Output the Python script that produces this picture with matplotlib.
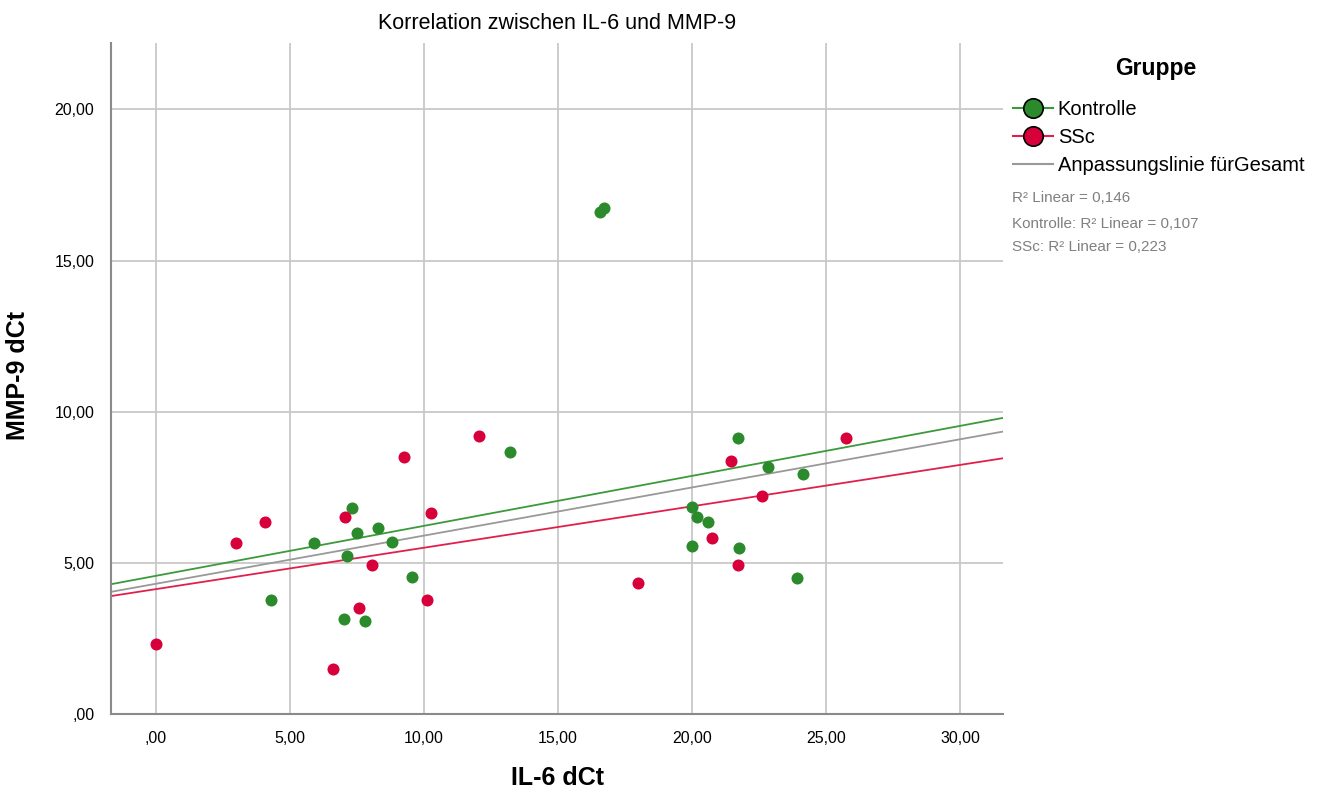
import numpy as np
import matplotlib.pyplot as plt
from matplotlib.lines import Line2D

plt.rcParams['font.family'] = ['Liberation Sans', 'DejaVu Sans']

# Kontrolle (green)
kon_x = [4.29, 5.90, 7.01, 7.31, 7.50, 7.13, 7.80, 8.28, 8.81, 9.55, 13.21,
         16.57, 16.72, 20.00, 20.19, 20.60, 20.00, 21.75, 21.72, 22.84, 24.14, 23.92]
kon_y = [3.77, 5.66, 3.15, 6.82, 5.99, 5.23, 3.08, 6.16, 5.70, 4.54, 8.68,
         16.62, 16.75, 6.85, 6.52, 6.36, 5.56, 5.50, 9.14, 8.18, 7.95, 4.50]

# SSc (red)
ssc_x = [0.00, 2.99, 4.07, 6.60, 7.05, 7.57, 8.06, 9.25, 10.11, 10.26, 12.05,
         17.99, 20.75, 21.46, 21.72, 22.61, 25.75]
ssc_y = [2.32, 5.66, 6.36, 1.49, 6.52, 3.51, 4.93, 8.51, 3.77, 6.66, 9.21,
         4.34, 5.83, 8.38, 4.93, 7.22, 9.14]

xticks = [0, 5, 10, 15, 20, 25, 30]
yticks = [0, 5, 10, 15, 20]
r2_texts = ['R² Linear = 0,146', 'Kontrolle: R² Linear = 0,107', 'SSc: R² Linear = 0,223']

green = '#2b8a2b'
red = '#d8003a'

fig = plt.figure(figsize=(13.25, 7.96), dpi=100)
ax = fig.add_axes([0.0838, 0.103, 0.6732, 0.843])
xmin, xmax = -1.68, 31.6
ax.set_xlim(xmin, xmax)
ax.set_ylim(0, 22.2)

ax.set_xticks(xticks)
ax.set_yticks(yticks)
fmt = lambda v: (',00' if v == 0 else f'{v:.2f}'.replace('.', ','))
ax.set_xticklabels([fmt(v) for v in xticks], fontsize=11.5)
ax.set_yticklabels([fmt(v) for v in yticks], fontsize=11.5)
ax.tick_params(length=0, pad=12)
ax.grid(True, color='#c8c8c8', linewidth=1.3)
ax.set_axisbelow(True)
for s in ['top', 'right']:
    ax.spines[s].set_visible(False)
for s in ['left', 'bottom']:
    ax.spines[s].set_color('#8a8a8a')
    ax.spines[s].set_linewidth(1.5)

ax.scatter(kon_x, kon_y, s=75, color=green, zorder=3, linewidths=0)
ax.scatter(ssc_x, ssc_y, s=75, color=red, zorder=3, linewidths=0)

xx = np.array([xmin, xmax])
all_x = kon_x + ssc_x
all_y = kon_y + ssc_y
for xs, ys, c in [(kon_x, kon_y, '#3c9a3c'), (ssc_x, ssc_y, '#e0204c'), (all_x, all_y, '#999999')]:
    m, b = np.polyfit(xs, ys, 1)
    ax.plot(xx, m * xx + b, color=c, linewidth=1.3, zorder=2)

ax.set_title('Korrelation zwischen IL-6 und MMP-9', fontsize=15.5, pad=10)
ax.set_xlabel('IL-6 dCt', fontsize=18, fontweight='bold')
ax.set_ylabel('MMP-9 dCt', fontsize=18, fontweight='bold')
ax.xaxis.set_label_coords(0.5, -0.078)
ax.yaxis.set_label_coords(-0.091, 0.505)

handles = [
    Line2D([0], [0], color='#3c9a3c', marker='o', markersize=14, markerfacecolor=green,
           markeredgecolor='black', markeredgewidth=1.2),
    Line2D([0], [0], color='#e0204c', marker='o', markersize=14, markerfacecolor=red,
           markeredgecolor='black', markeredgewidth=1.2),
    Line2D([0], [0], color='#999999'),
]
fig.text(1156 / 1325, 1 - 68 / 796, 'Gruppe', fontsize=16.5, fontweight='bold',
         ha='center', va='center')
leg = fig.legend(handles, ['Kontrolle', 'SSc', 'Anpassungslinie fürGesamt'],
                 loc='upper left', bbox_to_anchor=(0.752, 1 - 84 / 796), frameon=False,
                 fontsize=14.5, handlelength=2.0, handletextpad=0.25, labelspacing=0.45,
                 borderpad=0.3)

ys_txt = [0.751, 0.718, 0.690]
for t, yv in zip(r2_texts, ys_txt):
    fig.text(0.764, yv, t, fontsize=11, color='#808080', va='center')

fig.savefig('out.png', dpi=100)
